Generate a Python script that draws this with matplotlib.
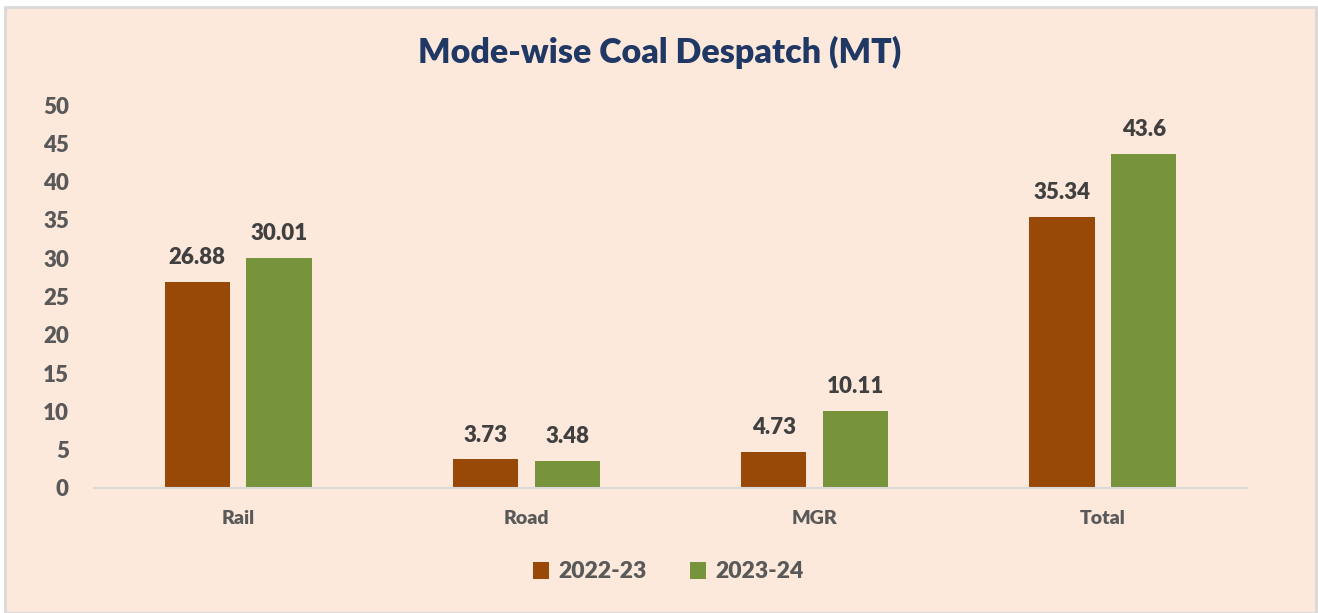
import numpy as np
import matplotlib.pyplot as plt
from matplotlib.patches import Rectangle

plt.rcParams['font.family'] = ['Lato', 'DejaVu Sans']
plt.rcParams['font.weight'] = 'heavy'

modes = ["Rail", "Road", "MGR", "Total"]
fy_2223 = [26.88, 3.73, 4.73, 35.34]
fy_2324 = [30.01, 3.48, 10.11, 43.6]
series_names = ["2022-23", "2023-24"]
yticks = [0, 5, 10, 15, 20, 25, 30, 35, 40, 45, 50]

bg = "#FDE9DB"
col_a = "#984807"
col_b = "#77933C"
txt = "#595959"

fig = plt.figure(figsize=(13.18, 6.13), dpi=100)
W, H = 1318, 613
# chart area with a light border (behind everything)
fig.patches.append(Rectangle((5 / W, 0), 1311 / W, (H - 7) / H, transform=fig.transFigure,
                             facecolor=bg, edgecolor="#D9D9D9", linewidth=2, zorder=-10))

ax = fig.add_axes([94 / W, 1 - 488 / H, (1247 - 94) / W, (488 - 105) / H])
ax.set_facecolor("none")

x = np.arange(len(modes))
w = 0.226
off = 0.142
b1 = ax.bar(x - off, fy_2223, w, color=col_a, label=series_names[0], zorder=2)
b2 = ax.bar(x + off, fy_2324, w, color=col_b, label=series_names[1], zorder=2)

for bars, vals in [(b1, fy_2223), (b2, fy_2324)]:
    for r, v in zip(bars, vals):
        ax.annotate(f"{v:g}", (r.get_x() + r.get_width() / 2, v), xytext=(0, 10),
                    textcoords="offset points", ha="center", va="bottom",
                    fontsize=16, color="#404040")

ax.set_xlim(-0.5, len(modes) - 0.5)
ax.set_ylim(0, 50)
ax.set_yticks(yticks)
ax.set_xticks(x)
ax.set_xticklabels(modes)
ax.tick_params(axis="y", length=0, pad=18, labelsize=16, labelcolor=txt)
ax.tick_params(axis="x", length=0, pad=16, labelsize=14, labelcolor=txt)

for s in ["top", "right", "left"]:
    ax.spines[s].set_visible(False)
ax.spines["bottom"].set_color("#D9D9D9")
ax.spines["bottom"].set_linewidth(1.5)

fig.text(660 / W, 1 - 52 / H, "Mode-wise Coal Despatch (MT)", ha="center", va="center",
         fontsize=24.5, color="#203864")

leg = fig.legend(loc="center", bbox_to_anchor=(668 / W, 1 - 572 / H), ncol=2, frameon=False,
                 prop={"size": 16.5, "weight": "heavy"}, handlelength=0.7, handleheight=0.7,
                 columnspacing=1.9, handletextpad=0.4)
for t in leg.get_texts():
    t.set_color(txt)

fig.savefig("out.png", dpi=100)
